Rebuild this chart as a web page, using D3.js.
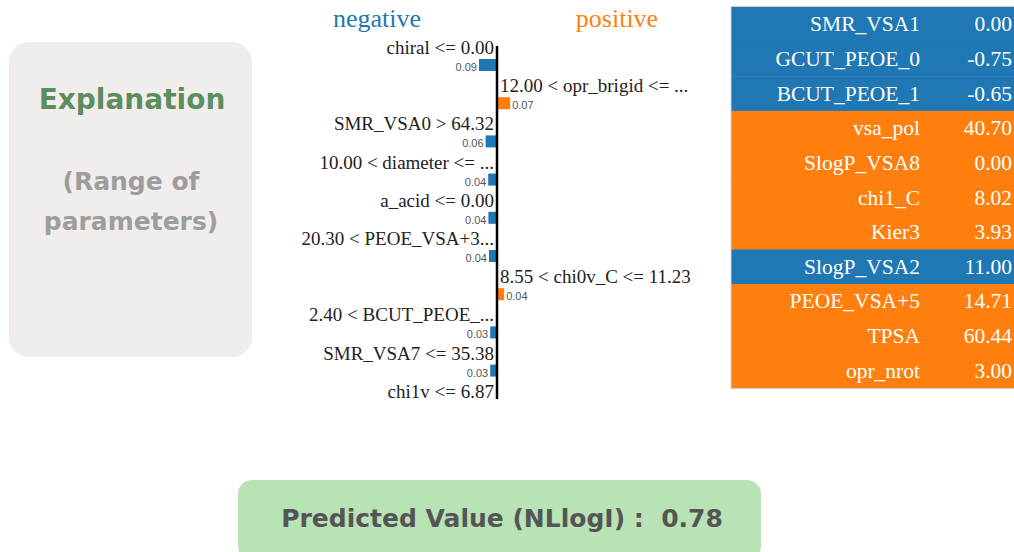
<!DOCTYPE html>
<html>
<head>
<meta charset="utf-8">
<script src="https://cdn.jsdelivr.net/npm/d3@7"></script>
<style>
  html, body { margin: 0; padding: 0; background: #ffffff; }
  svg { display: block; }
</style>
</head>
<body>
<svg id="chart" width="1014" height="552"></svg>
<script>
// ---------- data ----------
const features = [
  "chiral <= 0.00",
  "12.00 < opr_brigid <= ...",
  "SMR_VSA0 > 64.32",
  "10.00 < diameter <= ...",
  "a_acid <= 0.00",
  "20.30 < PEOE_VSA+3...",
  "8.55 < chi0v_C <= 11.23",
  "2.40 < BCUT_PEOE_...",
  "SMR_VSA7 <= 35.38",
  "chi1v <= 6.87"
];
const weights = [-0.090, 0.066, -0.057, -0.044, -0.043, -0.040, 0.036, -0.034, -0.034, -0.030];

const tableNames = ["SMR_VSA1", "GCUT_PEOE_0", "BCUT_PEOE_1", "vsa_pol", "SlogP_VSA8", "chi1_C",
                    "Kier3", "SlogP_VSA2", "PEOE_VSA+5", "TPSA", "opr_nrot"];
const tableValues = ["0.00", "-0.75", "-0.65", "40.70", "0.00", "8.02", "3.93", "11.00", "14.71", "60.44", "3.00"];
const tableSide = ["negative", "negative", "negative", "positive", "positive", "positive",
                   "positive", "negative", "positive", "positive", "positive"];

const sideTitles = ["negative", "positive"];
const cardTitle = "Explanation";
const cardSub = ["(Range of", "parameters)"];
const predictedLabel = "Predicted Value (NLlogI) :  0.78";

// ---------- setup ----------
const svg = d3.select("#chart");
const color = d3.scaleOrdinal().domain(["negative", "positive"]).range(["#1f77b4", "#ff7f0e"]);
const wideSans = "'DejaVu Sans', 'Open Sans', sans-serif";
const serif = "'Liberation Serif', 'Times New Roman', serif";

// ---------- left card ----------
const card = svg.append("g");
card.append("rect").attr("x", 9).attr("y", 42).attr("width", 243).attr("height", 315)
  .attr("rx", 20).attr("fill", "#f2eded");
card.append("text").attr("x", 132).attr("y", 109).attr("text-anchor", "middle")
  .attr("font-family", wideSans).attr("font-weight", 700).attr("font-size", 28)
  .attr("fill", "#5b8e5d").text(cardTitle);
card.selectAll("text.sub").data(cardSub).join("text").attr("class", "sub")
  .attr("x", 131).attr("y", (d, i) => 190 + i * 40).attr("text-anchor", "middle")
  .attr("font-family", wideSans).attr("font-weight", 700).attr("font-size", 25)
  .attr("fill", "#9d9d9d").text(d => d);

// ---------- lime bar chart ----------
const x = d3.scaleLinear().domain([-0.6, 0.6]).range([377, 617]);
const y = d3.scaleBand().domain(features).range([40, 40 + 38.2 * features.length]).padding(0);

const chart = svg.append("g");
chart.append("clipPath").attr("id", "plotclip")
  .append("rect").attr("x", 250).attr("y", 0).attr("width", 470).attr("height", 400);

chart.selectAll("text.title").data(sideTitles).join("text").attr("class", "title")
  .attr("x", d => d === "negative" ? x(-0.6) : x(0.6))
  .attr("y", 27).attr("text-anchor", "middle")
  .attr("font-family", serif).attr("font-size", 26)
  .attr("fill", d => color(d)).text(d => d);

const rows = chart.append("g").attr("clip-path", "url(#plotclip)")
  .selectAll("g.row").data(features.map((f, i) => ({ f, w: weights[i] }))).join("g").attr("class", "row");

rows.append("rect")
  .attr("x", d => Math.min(x(0), x(d.w)))
  .attr("y", d => y(d.f) + 19)
  .attr("width", d => Math.abs(x(d.w) - x(0)))
  .attr("height", 12)
  .attr("fill", d => d.w < 0 ? color("negative") : color("positive"));

rows.append("text")
  .attr("x", d => d.w < 0 ? x(d.w) - 2 : x(d.w) + 2)
  .attr("y", d => y(d.f) + 31)
  .attr("text-anchor", d => d.w < 0 ? "end" : "start")
  .attr("font-family", "'Liberation Sans', Arial, sans-serif").attr("font-size", 11)
  .attr("fill", "#555").text(d => d3.format(".2f")(Math.abs(d.w)));

rows.append("text")
  .attr("x", d => d.w < 0 ? x(0) - 3 : x(0) + 3)
  .attr("y", d => y(d.f) + 14)
  .attr("text-anchor", d => d.w < 0 ? "end" : "start")
  .attr("font-family", serif).attr("font-size", 19)
  .attr("fill", "#222").text(d => d.f);

chart.append("line").attr("x1", x(0)).attr("x2", x(0)).attr("y1", 46).attr("y2", 399)
  .attr("stroke", "#000").attr("stroke-width", 2.5);

// ---------- feature value table ----------
const ty = d3.scaleBand().domain(tableNames).range([7, 388]);
const table = svg.append("g");
const trows = table.selectAll("g.trow").data(tableNames.map((n, i) => ({ n, v: tableValues[i], s: tableSide[i] })))
  .join("g").attr("class", "trow");
trows.append("rect").attr("x", 731).attr("y", d => ty(d.n)).attr("width", 290).attr("height", ty.bandwidth() + 0.5)
  .attr("fill", d => color(d.s));
trows.append("text").attr("x", 920).attr("y", d => ty(d.n) + ty.bandwidth() / 2 + 7)
  .attr("text-anchor", "end").attr("font-family", serif)
  .attr("font-size", 21.5).attr("fill", "#fff").text(d => d.n);
trows.append("text").attr("x", 1012).attr("y", d => ty(d.n) + ty.bandwidth() / 2 + 7)
  .attr("text-anchor", "end").attr("font-family", serif)
  .attr("font-size", 21.5).attr("fill", "#fff").text(d => d.v);
table.append("rect").attr("x", 731).attr("y", 6.5).attr("width", 290).attr("height", 382)
  .attr("fill", "none").attr("stroke", "#c8d4e0").attr("stroke-width", 1);

// ---------- predicted value box ----------
const pred = svg.append("g");
pred.append("rect").attr("x", 238).attr("y", 480).attr("width", 523).attr("height", 80)
  .attr("rx", 14).attr("fill", "#b8e3b4");
pred.append("text").attr("x", 502).attr("y", 527).attr("text-anchor", "middle")
  .attr("font-family", wideSans).attr("font-weight", 700).attr("font-size", 25)
  .attr("fill", "#555555").style("white-space", "pre").text(predictedLabel);
</script>
</body>
</html>
